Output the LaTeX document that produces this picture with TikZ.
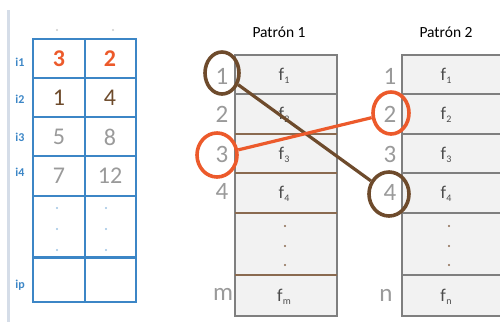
\documentclass[tikz,border=0pt]{standalone}
\usepackage{fontspec}
\setmainfont{Carlito}
\usetikzlibrary{shapes.geometric}
\definecolor{tblue}{HTML}{3C86C6}
\definecolor{lbar}{HTML}{D5DDE8}
\definecolor{orng}{HTML}{EC5A2B}
\definecolor{brwn}{HTML}{6E4B2C}
\definecolor{numgray}{HTML}{9A9A9A}
\definecolor{boxline}{HTML}{7F7F7F}
\definecolor{boxfill}{HTML}{F2F2F2}
\definecolor{tanline}{HTML}{8A6A50}
\newcommand{\fsub}[1]{f\kern0.3pt\raisebox{-0.3ex}{\fontsize{10}{10}\selectfont #1}}
\begin{document}
\begin{tikzpicture}[x=1pt,y=-1pt,
  tline/.style={draw=tblue,line width=2.4pt},
  tnum/.style={font=\fontsize{24}{24}\selectfont,inner sep=0pt},
  ilabel/.style={font=\fontsize{12}{12}\selectfont\bfseries,text=tblue,inner sep=0pt},
  idx/.style={font=\fontsize{25}{25}\selectfont,text=numgray,inner sep=0pt},
  fcell/.style={font=\fontsize{18}{18}\selectfont,text=black!70,inner sep=0pt},
  title/.style={font=\fontsize{15.5}{15.5}\selectfont,inner sep=0pt},
  pbox/.style={fill=boxfill,draw=boxline,line width=1.6pt},
  ring/.style={ellipse,draw,line width=3.6pt,inner sep=0pt},
  link/.style={line width=3.2pt},
  dotc/.style={circle,fill,inner sep=0pt,minimum size=2.2pt}]
\useasboundingbox (0,0) rectangle (500,322);

% left vertical bar
\draw[lbar,line width=3pt] (8,10) -- (8,322);

% tiny ticks above table
\node[dotc,numgray!50] (tk1) at (57,30) {};
\node[dotc,numgray!50] (tk2) at (113,30) {};

% left table
\draw[tline] (33,39) rectangle (136,302);
\draw[tline] (85,39) -- (85,302);
\foreach \yy in {78,117,156,196} \draw[tline] (33,\yy) -- (136,\yy);
\draw[tline,line width=3pt] (33,257) -- (136,257);

\node[ilabel] (i1) at (20,62) {i1};
\node[ilabel] (i2) at (20,99) {i2};
\node[ilabel] (i3) at (20,137) {i3};
\node[ilabel] (i4) at (20,172) {i4};
\node[ilabel] (ip) at (20,285) {ip};

\node[tnum,text=orng] (a11) at (59,59) {\textbf{3}};
\node[tnum,text=orng] (a12) at (110,59) {\textbf{2}};
\node[tnum,text=brwn] (a21) at (59,98) {1};
\node[tnum,text=brwn] (a22) at (110,98) {4};
\node[tnum,text=numgray] (a31) at (59,137) {5};
\node[tnum,text=numgray] (a32) at (110,137) {8};
\node[tnum,text=numgray] (a41) at (59,176) {7};
\node[tnum,text=numgray] (a42) at (110,176) {12};
\foreach \yy in {208,229,250}{
  \node[dotc,tblue!50] at (57,\yy) {};
  \node[dotc,tblue!50] at (106,\yy) {};
}

% Patron 1
\node[title] (t1) at (279,32) {Patrón 1};
\draw[pbox] (235,55) rectangle (337,316);
\draw[boxline,line width=1.6pt] (235,94) -- (337,94);
\foreach \yy in {134,173,213,275} \draw[tanline,line width=1.6pt] (235,\yy) -- (337,\yy);
\node[fcell] (p1f1) at (284,76) {\fsub{1}};
\node[fcell] (p1f2) at (284,115) {\fsub{2}};
\node[fcell] (p1f3) at (284,155) {\fsub{3}};
\node[fcell] (p1f4) at (284,194) {\fsub{4}};
\node[fcell] (p1fm) at (284,297) {\fsub{m}};
\foreach \yy in {226,246,265} \node[dotc,tanline] at (285,\yy) {};
\node[idx] (p1n1) at (222,76) {1};
\node[idx] (p1n2) at (222,114) {2};
\node[idx] (p1n3) at (222,154) {3};
\node[idx] (p1n4) at (222,191) {4};
\node[idx] (p1nm) at (223,294) {m};

% Patron 2
\node[title] (t2) at (446,32) {Patrón 2};
\draw[pbox] (402,55) rectangle (510,316);
\foreach \yy in {94,134,173,213,275} \draw[boxline,line width=1.6pt] (402,\yy) -- (510,\yy);
\node[fcell] (p2f1) at (446,76) {\fsub{1}};
\node[fcell] (p2f2) at (446,115) {\fsub{2}};
\node[fcell] (p2f3) at (446,155) {\fsub{3}};
\node[fcell] (p2f4) at (446,194) {\fsub{4}};
\node[fcell] (p2fn) at (446,297) {\fsub{n}};
\foreach \yy in {226,246,265} \node[dotc,tanline] at (449,\yy) {};
\node[idx] (p2n1) at (390,76) {1};
\node[idx] (p2n2) at (390,114) {2};
\node[idx] (p2n3) at (390,154) {3};
\node[idx] (p2n4) at (390,192) {4};
\node[idx] (p2nn) at (386,295) {n};

% rings and links
\node[ring,draw=brwn,minimum width=34pt,minimum height=42pt] (c1) at (222,73) {};
\node[ring,draw=orng,minimum width=40pt,minimum height=44pt] (c3) at (217,155) {};
\node[ring,draw=orng,minimum width=36pt,minimum height=42pt] (c2) at (391,113) {};
\node[ring,draw=brwn,minimum width=40pt,minimum height=44pt] (c4) at (389,194) {};
\draw[link,brwn] (c1) -- (c4);
\draw[link,orng] (c3) -- (c2);
\end{tikzpicture}
\end{document}
